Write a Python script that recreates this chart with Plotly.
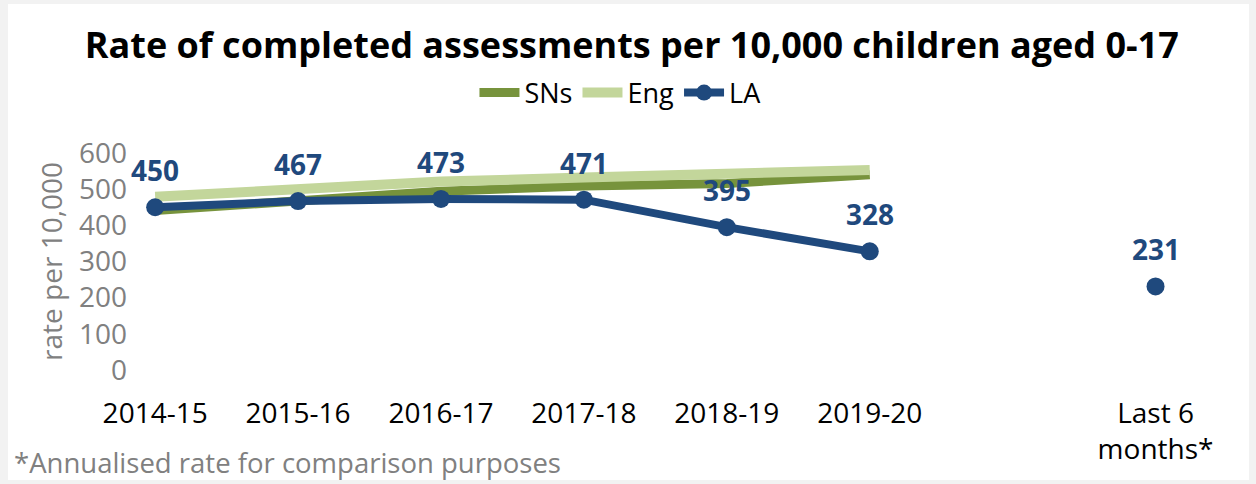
import plotly.graph_objects as go

# categories (one blank slot before the last point, as in the source chart)
categories = ["2014-15", "2015-16", "2016-17", "2017-18", "2018-19", "2019-20", " ", "Last 6<br>months*"]
years = categories[:6]

sns = [441, 470, 494, 509, 516, 540]
eng = [479, 498, 521, 532, 544, 553]
la = [450, 467, 473, 471, 395, 328, None, 231]

SNS_COL = "#77933C"
ENG_COL = "#C3D69B"
LA_COL = "#1F497D"
GREY = "#808080"
FONT = "Open Sans"

W, H = 1256, 484
L, R, T, B = 128, 29, 153, 114
plot_w = W - L - R
plot_h = H - T - B


def px_x(x):
    return (x - L) / plot_w


def px_y(y):
    return (H - B - y) / plot_h


fig = go.Figure()
fig.add_trace(go.Scatter(x=years, y=sns, name="SNs", mode="lines",
                         line=dict(color=SNS_COL, width=9)))
fig.add_trace(go.Scatter(x=years, y=eng, name="Eng", mode="lines",
                         line=dict(color=ENG_COL, width=10)))
fig.add_trace(go.Scatter(x=categories, y=la, name="LA", mode="lines+markers",
                         line=dict(color=LA_COL, width=8),
                         marker=dict(color=LA_COL, size=18),
                         connectgaps=False))

# data labels for LA
for c, v in zip(categories, la):
    if v is None:
        continue
    fig.add_annotation(x=c, y=v, text=f"<b>{v}</b>", showarrow=False,
                       yshift=37, font=dict(family=FONT, size=28, color=LA_COL))

fig.add_annotation(xref="paper", yref="paper", x=px_x(12), y=px_y(462),
                   xanchor="left", yanchor="middle", showarrow=False,
                   text="*Annualised rate for comparison purposes",
                   font=dict(family=FONT, size=27.5, color=GREY))

# white card on a light grey page
fig.add_shape(type="rect", xref="paper", yref="paper", layer="below",
              x0=px_x(8), x1=px_x(1249), y0=px_y(480), y1=px_y(4),
              fillcolor="white", line=dict(width=0))

fig.update_layout(
    width=W, height=H,
    margin=dict(l=L, r=R, t=T, b=B),
    paper_bgcolor="#F2F2F2",
    plot_bgcolor="rgba(0,0,0,0)",
    font=dict(family=FONT, size=28, color="black"),
    title=dict(text="<b>Rate of completed assessments per 10,000 children aged 0-17</b>",
               x=0.503, xanchor="center", y=1 - 45 / H, yanchor="middle",
               font=dict(family=FONT, size=36, color="black")),
    legend=dict(orientation="h", x=0.494, xanchor="center", xref="container",
                y=1 - 93 / H, yanchor="middle", yref="container",
                font=dict(family=FONT, size=27, color="black"),
                bgcolor="rgba(0,0,0,0)", itemwidth=40, tracegroupgap=0),
    showlegend=True,
)
fig.update_xaxes(type="category", categoryorder="array", categoryarray=categories,
                 range=[-0.19, 7.5], showgrid=False, zeroline=False, showline=False,
                 ticks="", ticklabelstandoff=24,
                 tickfont=dict(family=FONT, size=28, color="black"))
fig.update_yaxes(range=[0, 600], dtick=100, showgrid=False, zeroline=False,
                 showline=False, ticks="",
                 tickfont=dict(family=FONT, size=28, color=GREY),
                 title=dict(text="rate per 10,000", standoff=8,
                            font=dict(family=FONT, size=28, color=GREY)))

# drop the default page margin so the figure fills the window
fig.write_html("out.html", config={"displayModeBar": False},
               post_script="document.body.style.margin='0';")
